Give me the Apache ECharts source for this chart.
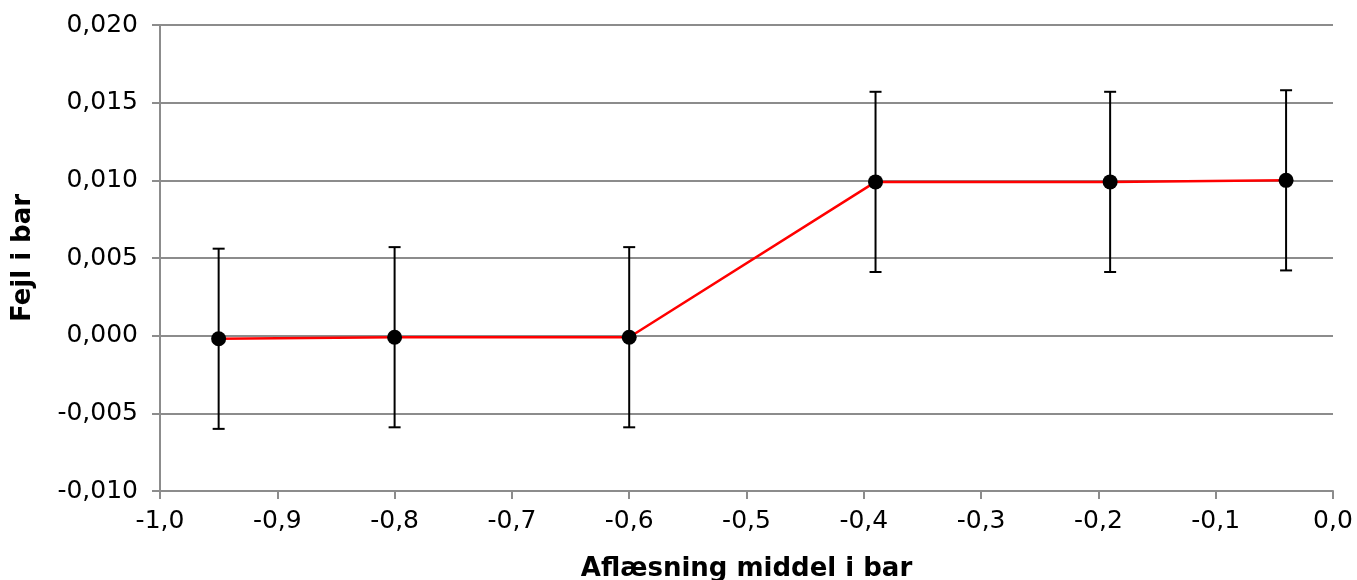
<!DOCTYPE html>
<html>
<head>
<meta charset="utf-8">
<script src="https://cdn.jsdelivr.net/npm/echarts@6/dist/echarts.min.js"></script>
<style>html,body{margin:0;padding:0;background:#fff}#c{width:1357px;height:580px}</style>
</head>
<body>
<div id="c"></div>
<script>
const xValues = [-0.95, -0.8, -0.6, -0.39, -0.19, -0.04];
const yValues = [-0.0002, -0.0001, -0.0001, 0.0099, 0.0099, 0.0100];
const errLow = [-0.0060, -0.0059, -0.0059, 0.0041, 0.0041, 0.0042];
const errHigh = [0.0056, 0.0057, 0.0057, 0.0157, 0.0157, 0.0158];
const xAxisTitle = 'Aflæsning middel i bar';
const yAxisTitle = 'Fejl i bar';

const font = 'DejaVu Sans, Verdana, sans-serif';
const pts = xValues.map((x, i) => [x, yValues[i]]);
const errs = xValues.map((x, i) => [x, errLow[i], errHigh[i]]);
const gridCol = '#8c8c8c';

const chart = echarts.init(document.getElementById('c'));
chart.setOption({
  animation: false,
  backgroundColor: '#fff',
  grid: { left: 160, right: 24, top: 25, bottom: 89, containLabel: false, outerBoundsMode: 'none' },
  xAxis: {
    type: 'value', min: -1, max: 0, interval: 0.1,
    name: xAxisTitle, nameLocation: 'middle', nameGap: 65,
    nameTextStyle: { fontFamily: font, fontWeight: 'bold', fontSize: 26, color: '#000' },
    axisLine: { show: true, onZero: false, lineStyle: { color: gridCol, width: 2 } },
    axisTick: { show: true, inside: false, length: 8, lineStyle: { color: gridCol, width: 2 } },
    axisLabel: { fontFamily: font, fontSize: 25, color: '#000', margin: 18,
      formatter: v => v.toFixed(1).replace('.', ',') },
    splitLine: { show: false }
  },
  yAxis: {
    type: 'value', min: -0.01, max: 0.02, interval: 0.005,
    name: yAxisTitle, nameLocation: 'middle', nameGap: 124, nameRotate: 90,
    nameTextStyle: { fontFamily: font, fontWeight: 'bold', fontSize: 26, color: '#000' },
    axisLine: { show: true, onZero: false, lineStyle: { color: gridCol, width: 2 } },
    axisTick: { show: true, inside: false, length: 8, lineStyle: { color: gridCol, width: 2 } },
    axisLabel: { fontFamily: font, fontSize: 25, color: '#000', margin: 22,
      formatter: v => v.toFixed(3).replace('.', ',') },
    splitLine: { show: true, lineStyle: { color: gridCol, width: 2 } }
  },
  series: [
    {
      type: 'line', data: pts, symbol: 'none', z: 3,
      lineStyle: { color: '#ff0000', width: 2.5 }
    },
    {
      type: 'custom', z: 4,
      data: errs,
      encode: { x: 0, y: [1, 2] },
      renderItem: function (params, api) {
        const x = api.value(0);
        const lo = api.coord([x, api.value(1)]);
        const hi = api.coord([x, api.value(2)]);
        const hw = 6;
        const st = { stroke: '#000', lineWidth: 2 };
        return {
          type: 'group',
          children: [
            { type: 'line', shape: { x1: lo[0], y1: lo[1], x2: hi[0], y2: hi[1] }, style: st },
            { type: 'line', shape: { x1: lo[0] - hw, y1: lo[1], x2: lo[0] + hw, y2: lo[1] }, style: st },
            { type: 'line', shape: { x1: hi[0] - hw, y1: hi[1], x2: hi[0] + hw, y2: hi[1] }, style: st }
          ]
        };
      }
    },
    {
      type: 'scatter', data: pts, symbol: 'circle', symbolSize: 15, z: 5,
      itemStyle: { color: '#000', opacity: 1 }
    }
  ]
});
</script>
</body>
</html>
